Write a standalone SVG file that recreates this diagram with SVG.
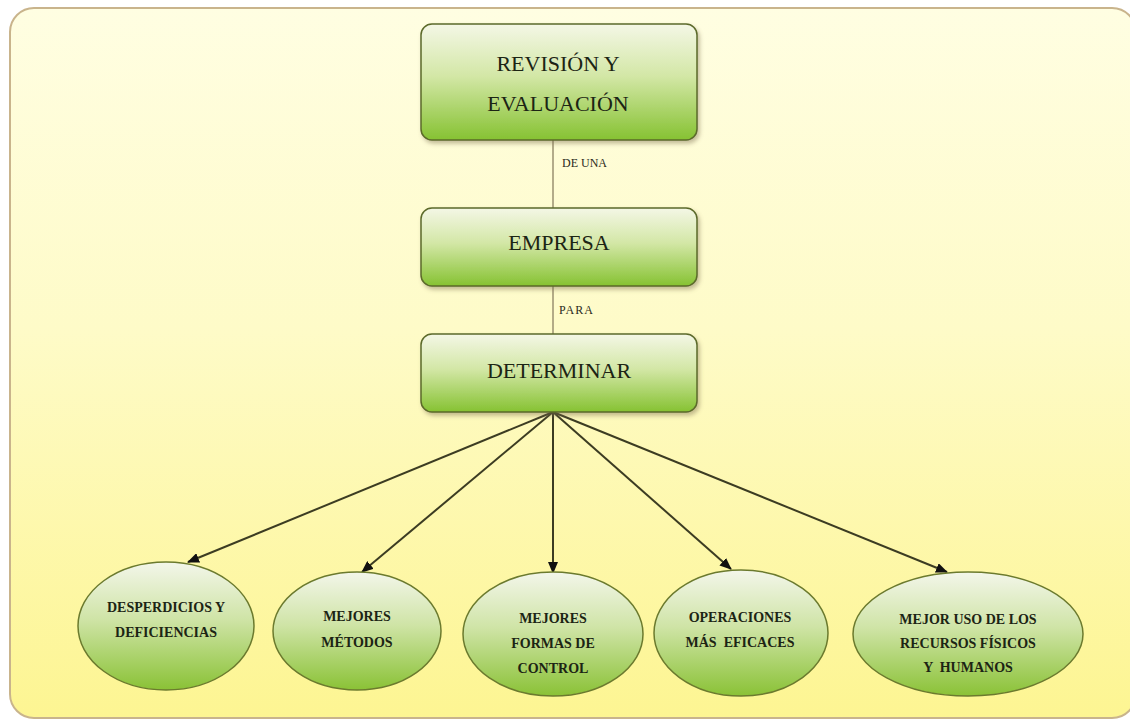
<svg xmlns="http://www.w3.org/2000/svg" width="1130" height="721" viewBox="0 0 1130 721">
<defs>
<linearGradient id="bg" x1="0" y1="0" x2="0" y2="1">
<stop offset="0" stop-color="#fffee2"/>
<stop offset="0.45" stop-color="#fefbc8"/>
<stop offset="1" stop-color="#fdf592"/>
</linearGradient>
<linearGradient id="boxg" x1="0" y1="0" x2="0" y2="1">
<stop offset="0" stop-color="#f4f7e6"/>
<stop offset="0.45" stop-color="#d3e7a6"/>
<stop offset="1" stop-color="#86c232"/>
</linearGradient>
<linearGradient id="ellg" x1="0" y1="0" x2="0" y2="1">
<stop offset="0" stop-color="#f3f6ea"/>
<stop offset="0.45" stop-color="#cfe4a6"/>
<stop offset="1" stop-color="#8ac236"/>
</linearGradient>
<filter id="sh" x="-10%" y="-10%" width="120%" height="130%">
<feDropShadow dx="2" dy="3" stdDeviation="2" flood-color="#7a7050" flood-opacity="0.45"/>
</filter>
<marker id="ah" viewBox="0 0 12 10" refX="11" refY="5" markerWidth="12" markerHeight="10" markerUnits="userSpaceOnUse" orient="auto">
<path d="M0,0 L12,5 L0,10 Z" fill="#111"/>
</marker>
<style>
.box{fill:url(#boxg);stroke:#5b6a2a;stroke-width:1.5;filter:url(#sh)}
.ell{fill:url(#ellg);stroke:#6b7a2e;stroke-width:1.5}
.bt{font-family:"Liberation Serif",serif;font-size:22px;fill:#1c2414;text-anchor:middle}
.et{font-family:"Liberation Serif",serif;font-size:14px;font-weight:bold;fill:#1c2414;text-anchor:middle}
.lt{font-family:"Liberation Serif",serif;font-size:12px;fill:#2a2a1a}
.vl{stroke:#9a9070;stroke-width:1.5;fill:none}
.ar{stroke:#3c3c22;stroke-width:2;fill:none;marker-end:url(#ah)}
</style>
</defs>
<rect x="10" y="8" width="1126" height="710" rx="24" fill="url(#bg)" stroke="#c9b48c" stroke-width="2"/>
<g id="connectors">
<line class="vl" x1="553" y1="140" x2="553" y2="208"/>
<line class="vl" x1="553" y1="286" x2="553" y2="334"/>
<line class="ar" x1="553" y1="412" x2="188" y2="562"/>
<line class="ar" x1="553" y1="412" x2="362" y2="572"/>
<line class="ar" x1="553" y1="412" x2="553" y2="573"/>
<line class="ar" x1="553" y1="412" x2="731" y2="569"/>
<line class="ar" x1="553" y1="412" x2="947" y2="572"/>
<text class="lt" x="562" y="167">DE UNA</text>
<text class="lt" x="559" y="314" letter-spacing="1">PARA</text>
</g>
<g id="n1">
<rect class="box" x="421" y="24" width="276" height="116" rx="11"/>
<text class="bt" x="558" y="71">REVISIÓN  Y</text>
<text class="bt" x="558" y="111">EVALUACIÓN</text>
</g>
<g id="n2">
<rect class="box" x="421" y="208" width="276" height="78" rx="11"/>
<text class="bt" x="559" y="250">EMPRESA</text>
</g>
<g id="n3">
<rect class="box" x="421" y="334" width="276" height="78" rx="11"/>
<text class="bt" x="559" y="378">DETERMINAR</text>
</g>
<g id="e1">
<ellipse class="ell" cx="166" cy="626" rx="88" ry="64"/>
<text class="et" x="166" y="612">DESPERDICIOS Y</text>
<text class="et" x="166" y="637">DEFICIENCIAS</text>
</g>
<g id="e2">
<ellipse class="ell" cx="357" cy="631" rx="84" ry="59"/>
<text class="et" x="357" y="621">MEJORES</text>
<text class="et" x="357" y="647">MÉTODOS</text>
</g>
<g id="e3">
<ellipse class="ell" cx="553" cy="634" rx="90" ry="62"/>
<text class="et" x="553" y="623">MEJORES</text>
<text class="et" x="553" y="648">FORMAS DE</text>
<text class="et" x="553" y="673">CONTROL</text>
</g>
<g id="e4">
<ellipse class="ell" cx="741" cy="633" rx="87" ry="63"/>
<text class="et" x="740" y="622">OPERACIONES</text>
<text class="et" x="740" y="647" xml:space="preserve">MÁS  EFICACES</text>
</g>
<g id="e5">
<ellipse class="ell" cx="968" cy="634" rx="115" ry="62"/>
<text class="et" x="968" y="624">MEJOR USO DE LOS</text>
<text class="et" x="968" y="648">RECURSOS FÍSICOS</text>
<text class="et" x="968" y="672" xml:space="preserve">Y  HUMANOS</text>
</g>
</svg>
